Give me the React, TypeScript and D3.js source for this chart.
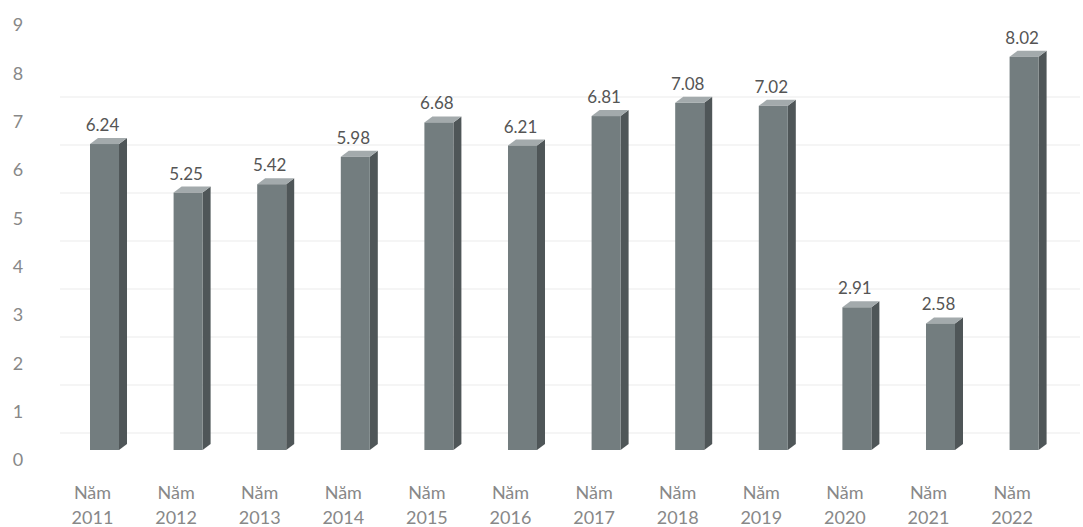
import React from "react";
import * as d3 from "d3";

const categories = ["2011","2012","2013","2014","2015","2016","2017","2018","2019","2020","2021","2022"];
const values = [6.24,5.25,5.42,5.98,6.68,6.21,6.81,7.08,7.02,2.91,2.58,8.02];
const yTicks = [0,1,2,3,4,5,6,7,8,9];
const prefix = "Năm";

const W = 1083, H = 527;

export default function App() {
  const x = d3.scaleBand<string>().domain(categories).range([48.2, 1080.4]).paddingInner(0.653).paddingOuter(0.5);
  const yBar = d3.scaleLinear().domain([0, 9]).range([450, 8.7]);
  const yLab = d3.scaleLinear().domain([0, 9]).range([460, 25]);
  const yGrid = d3.scaleLinear().domain([0, 9]).range([481, 49]);
  const dx = 8, dy = 6;
  const font = "Lato, Calibri, sans-serif";
  return (
    <svg width={W} height={H} style={{ position: "fixed", left: 0, top: 0, display: "block", background: "#fff" }}>
      {yTicks.filter(t => t > 0 && t < 9).map(t => (
        <line key={t} x1={60} x2={1080} y1={yGrid(t)} y2={yGrid(t)} stroke="#ececec" strokeWidth={1.2} />
      ))}
      {yTicks.map(t => (
        <text key={t} x={18} y={yLab(t)} dy="0.36em" textAnchor="middle" fontFamily={font} fontSize={18} fill="#888">{t}</text>
      ))}
      {categories.map((c, i) => {
        const x0 = x(c)!;
        const bw = x.bandwidth();
        const v = values[i];
        const top = yBar(v);
        const bot = yBar(0);
        const cx = x0 + bw / 2;
        return (
          <g key={c}>
            <polygon points={`${x0 + bw},${top} ${x0 + bw + dx},${top - dy} ${x0 + bw + dx},${bot - dy} ${x0 + bw},${bot}`} fill="#4f5658" />
            <polygon points={`${x0},${top} ${x0 + dx},${top - dy} ${x0 + bw + dx},${top - dy} ${x0 + bw},${top}`} fill="#a3aaac" />
            <rect x={x0} y={top} width={bw} height={bot - top} fill="#737d7f" />
            <text x={cx - 2} y={top - dy - 7} textAnchor="middle" fontFamily={font} fontSize={17} fill="#555">{v.toFixed(2)}</text>
            <text x={cx - 12} y={499} textAnchor="middle" fontFamily={font} fontSize={18} fill="#888">{prefix}</text>
            <text x={cx - 12} y={524} textAnchor="middle" fontFamily={font} fontSize={18} fill="#888">{c}</text>
          </g>
        );
      })}
    </svg>
  );
}
